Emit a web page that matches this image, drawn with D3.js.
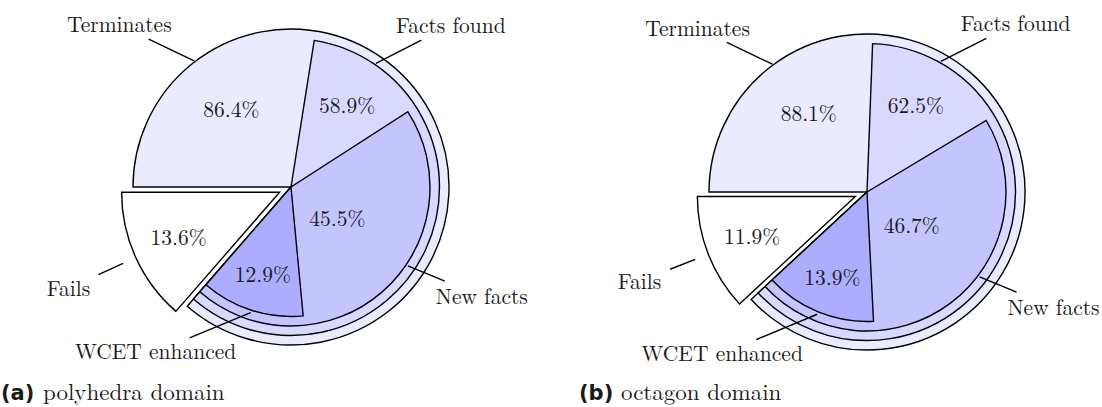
<!DOCTYPE html>
<html><head><meta charset="utf-8">
<script src="https://cdn.jsdelivr.net/npm/d3@7"></script>
<style>html,body{margin:0;padding:0;background:#fff;} svg{display:block}</style>
</head><body><svg id="c" width="1102" height="407"></svg>
<script>
// ---------- data ----------
const categories = ["Terminates", "Fails", "Facts found", "New facts", "WCET enhanced"];
const polyhedraValues = [86.4, 13.6, 58.9, 45.5, 12.9];
const octagonValues   = [88.1, 11.9, 62.5, 46.7, 13.9];
const captionTags  = ["(a)", "(b)"];
const captionTexts = ["polyhedra domain", "octagon domain"];
const sliceColors  = ["#ebebff", "#ffffff", "#d9d9ff", "#c4c4ff", "#adadff"];

// ---------- layout ----------
const charts = [
  { values: polyhedraValues, cx: 291, cy: 187, capX: 1,   labelDeg: { 0: -37.5, 2: 34.5, 3: 124 } },
  { values: octagonValues,   cx: 867, cy: 192, capX: 579, labelDeg: { 0: -36.5, 2: 29.5, 3: 127 } }
];
const radius = { 0: 158, 1: 158, 2: 148.5, 3: 139, 4: 129.5 };
const labelR = { 0: 98, 1: 111, 2: 99, 3: 56, 4: 92 };
// pin: anchor radius extra, direction (d3 deg, clockwise from 12), line length, text distance
const pins = {
  0: { extra: 1,   dir: -64.5, len: 50.5, dist: 83 },
  2: { extra: 1.5, dir: 63,    len: 51,   dist: 84 },
  3: { extra: 2,   dir: 112.5, len: 40,   dist: 80 },
  4: { extra: 2.5, dir: 247.5, len: 66,   dist: 103 }
};
const explode = 12.5;
const FONT = "'Latin Modern Roman','CMU Serif','Liberation Serif',serif";

const svg = d3.select("#c");
const toRad = d => d * Math.PI / 180;
const angle = d3.scaleLinear().domain([0, 100]).range([0, 2 * Math.PI]);
const base = -Math.PI / 2; // 9 o'clock
const pt = (a, r) => [r * Math.sin(a), -r * Math.cos(a)];

charts.forEach((ch, ci) => {
  const v = ch.values;
  const g = svg.append("g").attr("transform", `translate(${ch.cx},${ch.cy})`);
  const E = base + angle(v[0]);
  const wedges = [
    { i: 0, s: base, e: E },
    { i: 2, s: E - angle(v[2]), e: E },
    { i: 3, s: E - angle(v[3]), e: E },
    { i: 4, s: E - angle(v[4]), e: E }
  ];
  const arc = d3.arc().innerRadius(0);
  wedges.forEach(w => {
    g.append("path")
      .attr("d", arc({ outerRadius: radius[w.i], startAngle: w.s, endAngle: w.e }))
      .attr("fill", sliceColors[w.i]).attr("stroke", "#000")
      .attr("stroke-width", 1.4).attr("stroke-linejoin", "miter");
  });
  // exploded Fails slice
  const fs = E, fe = base + 2 * Math.PI, fm = (fs + fe) / 2;
  const [ox, oy] = pt(fm, explode);
  const gf = g.append("g").attr("transform", `translate(${ox},${oy})`);
  gf.append("path")
    .attr("d", arc({ outerRadius: radius[1], startAngle: fs, endAngle: fe }))
    .attr("fill", sliceColors[1]).attr("stroke", "#000")
    .attr("stroke-width", 1.4).attr("stroke-linejoin", "miter");

  // label angles
  const la = {
    0: toRad(ch.labelDeg[0]),
    2: toRad(ch.labelDeg[2]),
    3: toRad(ch.labelDeg[3]),
    4: E - angle(v[4]) / 2,
    1: fm
  };
  const txt = (sel, x, y, s, size) => sel.append("text")
    .attr("x", x).attr("y", y).attr("dy", "0.34em")
    .attr("text-anchor", "middle")
    .style("font-family", FONT).style("font-size", size + "px")
    .attr("fill", "#1a1a1a").text(s);

  // percentages
  [0, 2, 3, 4].forEach(i => {
    const [x, y] = pt(la[i], labelR[i]);
    txt(g, x, y, v[i].toFixed(1) + "%", 21.5);
  });
  {
    const [x, y] = pt(la[1], labelR[1]);
    txt(gf, x, y, v[1].toFixed(1) + "%", 21.5);
  }

  // pins with category names
  [0, 2, 3, 4].forEach(i => {
    const p = pins[i];
    const [ax, ay] = pt(la[i], radius[i] + p.extra);
    const d = toRad(p.dir);
    const [lx, ly] = pt(d, p.len);
    const [tx, ty] = pt(d, p.dist);
    g.append("line").attr("x1", ax).attr("y1", ay).attr("x2", ax + lx).attr("y2", ay + ly)
      .attr("stroke", "#000").attr("stroke-width", 1.4);
    txt(g, ax + tx, ay + ty, categories[i], 21.5);
  });
  {
    const [x1, y1] = pt(la[1], 172);
    const [x2, y2] = pt(la[1], 199);
    const [tx, ty] = pt(la[1], 232);
    gf.append("line").attr("x1", x1).attr("y1", y1).attr("x2", x2).attr("y2", y2)
      .attr("stroke", "#000").attr("stroke-width", 1.4);
    txt(gf, tx, ty, categories[1], 21.5);
  }

  // caption
  const cap = svg.append("text").attr("x", ch.capX).attr("y", 400).attr("fill", "#1a1a1a");
  cap.append("tspan").text(captionTags[ci])
    .style("font-family", "'DejaVu Sans',sans-serif").style("font-weight", "bold").style("font-size", "21px");
  cap.append("tspan").attr("x", ch.capX + 42).text(captionTexts[ci])
    .style("font-family", FONT).style("font-size", "23px");
});
</script>
</body></html>
